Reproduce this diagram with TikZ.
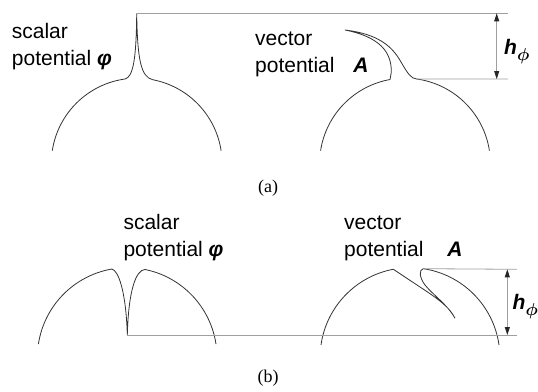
\documentclass[tikz,border=0pt]{standalone}
\usepackage{amsmath}
\usepackage{fontspec}
\setmainfont{Liberation Sans}
\newfontfamily\capfont{Liberation Serif}
\usetikzlibrary{arrows.meta,calc}

\begin{document}
\begin{tikzpicture}[
    x=1pt,y=-1pt,
    >={Triangle[length=8pt,width=5pt,color=black!85]},
    label/.style={font=\fontsize{21}{27}\selectfont,align=left,inner sep=0pt,anchor=north west},
    sym/.style={font=\fontsize{21}{27}\selectfont\bfseries\itshape,inner sep=0pt,anchor=base west},
    caption/.style={font=\capfont\fontsize{18}{20}\selectfont,inner sep=0pt},
    curve/.style={draw=black!80,line width=0.8pt},
    guide/.style={draw=gray!75,line width=0.8pt},
    dim/.style={<->,draw=gray!75,line width=0.8pt}
  ]
    \useasboundingbox (0,0) rectangle (538,391);

    % (a) scalar potential
    \coordinate (ca) at (136.7,163.6);
    \coordinate (atip) at (136.7,13.3);
    \draw[curve] ($(ca)+(188.7:85.4)$) arc[start angle=188.7,end angle=262.1,radius=85.4]
      .. controls (133,77) and (136.3,60) .. (atip)
      .. controls (137.4,60) and (141,77) .. ($(ca)+(280.8:85.4)$)
      arc[start angle=280.8,end angle=351.3,radius=85.4];

    % (a) vector potential
    \coordinate (cb) at (405,163.6);
    \coordinate (ahook) at (345,30);
    \coordinate (ashoulder) at ($(cb)+(277.9:85.4)$);
    \draw[curve] ($(cb)+(188.7:85.4)$) arc[start angle=188.7,end angle=259.9,radius=85.4]
      -- ++(1.3,-7.5) .. controls (391.5,52) and (380,37) .. (ahook)
      .. controls (378,34) and (392,46) .. (401,62)
      .. controls (408,74) and (411,78.5) .. (ashoulder)
      arc[start angle=277.9,end angle=351.3,radius=85.4];

    \coordinate (aend1) at (508,13.3);
    \coordinate (aend2) at (508,79);
    \draw[guide] (atip) -- (aend1);
    \draw[guide] (ashoulder) -- (aend2);
    \draw[dim] ($(aend1)+(-11.3,0)$) -- ($(aend2)+(-11.3,0)$);

    \node[label] (ascalar) at (11.7,23) {scalar\\potential \textbf{\textit{φ}}};
    \node[label] (avector) at (255,32) {vector\\potential\hspace{13pt} \textbf{\textit{A}}};
    \node[sym] (ah) at (504,54) {h\raisebox{-6pt}{\fontsize{17}{17}\selectfont$\boldsymbol{\phi}$}};
    \node[caption] (capa) at (268,188) {(a)};

    % (b) scalar potential
    \coordinate (cc) at (127.2,357.5);
    \coordinate (bcusp) at (127.3,335);
    \draw[curve] ($(cc)+(188.6:89.8)$) arc[start angle=188.6,end angle=260.1,radius=89.8]
      .. controls (118,270) and (126,290) .. (bcusp)
      .. controls (128.5,290) and (136,270) .. ($(cc)+(281.4:89.8)$)
      arc[start angle=281.4,end angle=351.4,radius=89.8];

    % (b) vector potential
    \coordinate (cd) at (410,357.6);
    \coordinate (bhook) at (455,318.3);
    \coordinate (bshoulder) at ($(cd)+(278.5:89.9)$);
    \draw[curve] ($(cd)+(188.1:89.9)$) arc[start angle=188.1,end angle=259.3,radius=89.9]
      -- (420,287) .. controls (440,300) and (450,308) .. (bhook)
      .. controls (447,304) and (433,295) .. (425,285)
      .. controls (419,277) and (419,269.5) .. (bshoulder)
      arc[start angle=278.5,end angle=351.9,radius=89.9];

    \coordinate (bend1) at (517,269.3);
    \coordinate (bend2) at (517,335);
    \draw[guide] (bshoulder) -- (bend1);
    \draw[guide] (bcusp) -- (bend2);
    \draw[dim] ($(bend1)+(-9.7,0)$) -- ($(bend2)+(-9.7,0)$);

    \node[label] (bscalar) at (123.3,214) {scalar\\potential \textbf{\textit{φ}}};
    \node[label] (bvector) at (344,216) {vector\\potential\hspace{18pt} \textbf{\textit{A}}};
    \node[sym] (bh) at (512.5,309) {h\raisebox{-6pt}{\fontsize{17}{17}\selectfont$\boldsymbol{\phi}$}};
    \node[caption] (capb) at (268,378) {(b)};
  \end{tikzpicture}
\end{document}
